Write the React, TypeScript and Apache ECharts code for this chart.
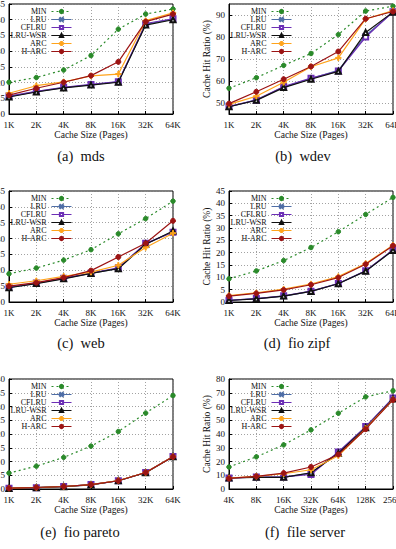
import React, { useEffect, useRef } from 'react';
import * as echarts from 'echarts';

// Cache sizes on the x axes
const sizesSmall = ['1K', '2K', '4K', '8K', '16K', '32K', '64K'];
const sizesLarge = ['4K', '8K', '16K', '32K', '64K', '128K', '256K'];
const policies = ['MIN', 'LRU', 'CFLRU', 'LRU-WSR', 'ARC', 'H-ARC'];

// (a) mds — hit ratio (%)
const mdsMin = [20.1, 21.6, 24.0, 28.6, 37.0, 41.8, 43.4];
const mdsLru = [15.5, 17.1, 18.4, 19.3, 20.2, 38.5, 40.2];
const mdsCflru = [15.7, 17.2, 18.5, 19.4, 20.3, 38.8, 40.3];
const mdsLruWsr = [15.4, 17.0, 18.3, 19.2, 20.1, 38.3, 40.0];
const mdsArc = [16.6, 19.0, 20.2, 22.1, 22.7, 39.7, 42.2];
const mdsHarc = [16.0, 18.2, 20.1, 22.2, 26.6, 39.4, 41.8];

// (b) wdev
const wdevMin = [56.7, 61.5, 67.1, 72.5, 81.1, 91.8, 94.0];
const wdevLru = [48.2, 51.5, 57.2, 61.1, 64.8, 80.7, 91.2];
const wdevCflru = [48.5, 51.3, 57.5, 61.3, 64.5, 80.0, 91.5];
const wdevLruWsr = [48.3, 51.2, 57.0, 60.8, 64.4, 82.0, 91.3];
const wdevArc = [49.4, 53.1, 59.4, 66.5, 70.5, 88.2, 92.0];
const wdevHarc = [49.7, 55.1, 60.8, 66.6, 73.4, 88.3, 91.6];

// (c) web
const webMin = [18.9, 20.7, 23.2, 26.5, 31.5, 36.3, 41.8];
const webLru = [14.6, 15.9, 17.4, 19.0, 20.6, 28.3, 32.2];
const webCflru = [14.7, 16.0, 17.5, 19.1, 20.8, 28.5, 32.0];
const webLruWsr = [14.5, 15.8, 17.3, 19.0, 20.5, 28.2, 32.4];
const webArc = [15.6, 16.7, 18.1, 19.4, 21.6, 27.2, 31.7];
const webHarc = [15.0, 16.1, 17.7, 19.9, 24.2, 28.5, 35.6];

// (d) fio zipf
const zipfMin = [9.4, 12.6, 16.8, 22.1, 28.5, 35.5, 42.4];
const zipfLru = [0.7, 1.4, 2.4, 4.3, 7.5, 12.6, 21.0];
const zipfCflru = [0.7, 1.4, 2.5, 4.4, 7.5, 12.7, 21.1];
const zipfLruWsr = [0.6, 1.3, 2.4, 4.3, 7.4, 12.5, 20.9];
const zipfArc = [2.6, 3.7, 5.2, 7.3, 10.3, 15.6, 23.0];
const zipfHarc = [2.4, 3.5, 4.9, 7.0, 9.9, 15.3, 22.8];

// (e) fio pareto
const paretoMin = [5.8, 8.3, 11.5, 15.6, 20.9, 27.6, 34.0];
const paretoLru = [0.25, 0.5, 0.85, 1.6, 3.0, 6.0, 11.7];
const paretoCflru = [0.25, 0.5, 0.9, 1.6, 3.0, 6.0, 11.8];
const paretoLruWsr = [0.2, 0.5, 0.85, 1.5, 3.0, 5.9, 11.7];
const paretoArc = [0.3, 0.55, 0.9, 1.6, 3.1, 6.0, 11.8];
const paretoHarc = [0.3, 0.55, 0.9, 1.6, 3.0, 6.0, 11.7];

// (f) file server
const fsMin = [16.0, 23.4, 32.1, 43.0, 55.1, 67.0, 71.5];
const fsLru = [8.0, 8.7, 8.7, 11.6, 26.6, 45.0, 66.0];
const fsCflru = [8.0, 8.7, 8.8, 10.6, 27.0, 45.4, 66.2];
const fsLruWsr = [8.0, 8.5, 8.5, 11.8, 26.0, 44.5, 65.5];
const fsArc = [8.0, 9.2, 11.1, 14.0, 24.2, 44.0, 65.0];
const fsHarc = [7.7, 9.2, 11.6, 16.0, 25.1, 43.5, 64.8];

const FONT = '"Liberation Serif", "Times New Roman", serif';

// Per-policy drawing style
const xMark = 'path://M1,0L5,4L9,0L10,1L6,5L10,9L9,10L5,6L1,10L0,9L4,5L0,1Z';
const plusMark = 'path://M4,0H6V4H10V6H6V10H4V6H0V4H4Z';
const styles: Record<string, any> = {
  MIN: { color: '#2a8a2a', symbol: 'circle', size: 4.5, dash: [2, 3] },
  LRU: { color: '#4f6ea6', symbol: xMark, size: 5, dash: 'solid' },
  CFLRU: { color: '#6c2fb5', symbol: 'emptyRect', size: 5, dash: 'solid' },
  'LRU-WSR': { color: '#111111', symbol: 'emptyTriangle', size: 5, dash: 'solid' },
  ARC: { color: '#ffa41c', symbol: plusMark, size: 5.5, dash: 'solid' },
  'H-ARC': { color: '#9c1414', symbol: 'circle', size: 5, dash: 'solid' },
};

type Panel = {
  caption: string;
  cats: string[];
  series: number[][];
  min: number;
  max: number;
  interval?: number;
  left: number;
  top: number;
  height: number;
  yName?: string;
  capX: number;
  capY: number;
};

const panels: Panel[] = [
  { caption: '(a)  mds', cats: sizesSmall, series: [mdsMin, mdsLru, mdsCflru, mdsLruWsr, mdsArc, mdsHarc], min: 10, max: 45, interval: 5, left: 9, top: 4, height: 110, capX: 81, capY: 156 },
  { caption: '(b)  wdev', cats: sizesSmall, series: [wdevMin, wdevLru, wdevCflru, wdevLruWsr, wdevArc, wdevHarc], min: 45, max: 95, left: 229, top: 4, height: 110, yName: 'Cache Hit Ratio (%)', capX: 303, capY: 156 },
  { caption: '(c)  web', cats: sizesSmall, series: [webMin, webLru, webCflru, webLruWsr, webArc, webHarc], min: 10, max: 45, interval: 5, left: 9, top: 191, height: 111, capX: 81, capY: 343 },
  { caption: '(d)  fio zipf', cats: sizesSmall, series: [zipfMin, zipfLru, zipfCflru, zipfLruWsr, zipfArc, zipfHarc], min: 0, max: 45, interval: 5, left: 229, top: 191, height: 111, yName: 'Cache Hit Ratio (%)', capX: 297, capY: 343 },
  { caption: '(e)  fio pareto', cats: sizesSmall, series: [paretoMin, paretoLru, paretoCflru, paretoLruWsr, paretoArc, paretoHarc], min: 0, max: 40, interval: 5, left: 9, top: 379, height: 110, capX: 80, capY: 532 },
  { caption: '(f)  file server', cats: sizesLarge, series: [fsMin, fsLru, fsCflru, fsLruWsr, fsArc, fsHarc], min: 0, max: 80, interval: 10, left: 229, top: 379, height: 110, yName: 'Cache Hit Ratio (%)', capX: 305, capY: 532 },
];

const PLOT_W = 164;

function buildOption() {
  const grid: any[] = [];
  const xAxis: any[] = [];
  const yAxis: any[] = [];
  const series: any[] = [];
  const legend: any[] = [];
  const graphic: any[] = [];

  const gridLine = { show: true, lineStyle: { color: '#8a8a8a', type: [1, 2], width: 0.8 } };
  const black = { color: '#000', width: 1 };

  panels.forEach((p, i) => {
    grid.push({
      left: p.left, top: p.top, width: PLOT_W, height: p.height,
      show: true, borderColor: '#000', borderWidth: 1,
      containLabel: false, outerBoundsMode: 'none',
    });
    xAxis.push({
      type: 'category', gridIndex: i, data: p.cats, boundaryGap: false,
      axisLine: { lineStyle: black },
      axisTick: { inside: true, length: 3, lineStyle: black },
      axisLabel: { interval: 0, margin: 6, fontFamily: FONT, fontSize: 9, color: '#111', hideOverlap: false },
      splitLine: gridLine,
      name: 'Cache Size (Pages)', nameLocation: 'middle', nameGap: 15,
      nameTextStyle: { fontFamily: FONT, fontSize: 9.5, color: '#111' },
    });
    const y: any = {
      type: 'value', gridIndex: i, min: p.min, max: p.max,
      axisLine: { show: true, lineStyle: black },
      axisTick: { show: true, inside: true, length: 3, lineStyle: black },
      axisLabel: { margin: 4, fontFamily: FONT, fontSize: 9, color: '#111' },
      splitLine: gridLine,
    };
    if (p.interval !== undefined) y.interval = p.interval;
    else { y.splitNumber = 5; y.axisLabel.showMinLabel = false; y.axisLabel.showMaxLabel = false; }
    if (p.yName) {
      y.name = p.yName; y.nameLocation = 'middle'; y.nameGap = 12;
      y.nameTextStyle = { fontFamily: FONT, fontSize: 9.5, color: '#111' };
    }
    yAxis.push(y);

    policies.forEach((name, k) => {
      const s = styles[name];
      series.push({
        type: 'line', name, xAxisIndex: i, yAxisIndex: i, data: p.series[k],
        symbol: s.symbol, symbolSize: s.size, showSymbol: true,
        lineStyle: { color: s.color, width: 1.2, type: s.dash },
        itemStyle: { color: s.color, borderColor: s.color, borderWidth: 1 },
        z: 2 + k, silent: true,
      });
    });

    legend.push({
      data: policies, orient: 'vertical', align: 'right', selectedMode: false,
      right: 396 - (p.left + 63), top: p.top + 3.5, padding: 0,
      itemWidth: 20, itemHeight: 4, itemGap: 0,
      lineStyle: { width: 1 },
      textStyle: { fontFamily: FONT, fontSize: 8, lineHeight: 7.6, color: '#111' },
    });

    graphic.push({
      type: 'text', x: p.capX, y: p.capY,
      style: {
        text: p.caption, fontFamily: FONT, fontSize: 14.5, fill: '#111',
        align: 'center', verticalAlign: 'middle', textAlign: 'center', textVerticalAlign: 'middle',
      },
    });
  });

  return { animation: false, backgroundColor: '#fff', grid, xAxis, yAxis, series, legend, graphic };
}

export default function App() {
  const ref = useRef<HTMLDivElement>(null);
  useEffect(() => {
    if (!ref.current) return;
    const chart = echarts.init(ref.current, undefined, { renderer: 'svg' });
    chart.setOption(buildOption() as any);
    return () => chart.dispose();
  }, []);
  return <div ref={ref} style={{ position: 'absolute', left: 0, top: 0, width: 396, height: 549 }} />;
}
